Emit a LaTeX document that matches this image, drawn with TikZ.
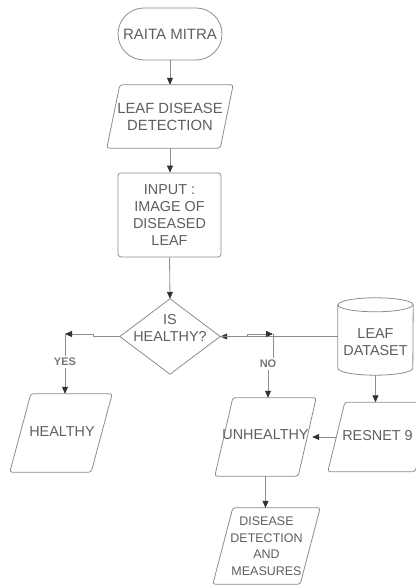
\documentclass[tikz,border=0pt]{standalone}
\usepackage{fontspec}
\setmainfont{Liberation Sans}
\usetikzlibrary{shapes.geometric,arrows.meta,calc}
\definecolor{txtc}{HTML}{5E5E5E}
\definecolor{linec}{HTML}{8C8C8C}
\definecolor{arrc}{HTML}{333333}
\newcommand\parashape[2]{\draw[shapeline, rounded corners=2.5pt] (#1.south west) -- ($(#1.north west)+(#2,0)$) -- (#1.north east) -- ($(#1.south east)+(-#2,0)$) -- cycle;}
\begin{document}
\begin{tikzpicture}[x=1pt,y=1pt,
  txt/.style={text=txtc, font=\fontsize{14.4}{17}\selectfont, align=center, inner sep=0.5pt},
  box/.style={txt, draw=linec, line width=0.8pt},
  geom/.style={txt, draw=none},
  shapeline/.style={draw=linec, line width=0.8pt},
  conn/.style={draw=linec, line width=0.8pt},
  arr/.style={conn, -{Triangle[length=7pt,width=6pt,color=arrc]}},
  lbl/.style={text=txtc!85, font=\fontsize{11}{12}\selectfont\bfseries, inner sep=2pt}
]
\useasboundingbox (0,0) rectangle (415,585);

% nodes
\node[box, rounded corners=26pt, minimum width=104pt, minimum height=52pt, font=\fontsize{15}{17}\selectfont] (term) at (170,551) {RAITA MITRA};

\node[geom, minimum width=126pt, minimum height=63pt, font=\fontsize{14.8}{17}\selectfont] (p1) at (170,468.5) {LEAF DISEASE\\DETECTION};
\parashape{p1}{13}

\node[box, rounded corners=3pt, minimum width=103pt, minimum height=84pt] (inp) at (169.5,370) {INPUT :\\IMAGE OF\\DISEASED\\LEAF};

\node[geom, minimum width=100pt, minimum height=75pt] (d) at (170,248.5) {};
\draw[shapeline] (d.north) -- (d.east) -- (d.south) -- (d.west) -- cycle;
\node[txt] (dt) at (170,257) {IS\\HEALTHY?};

\node[geom, minimum width=75pt, minimum height=77pt] (ds) at (375.5,248.5) {};
\draw[shapeline] ($(ds.north west)+(0,-7)$) -- ($(ds.south west)+(0,7)$)
   arc[start angle=180, end angle=360, x radius=37.5pt, y radius=7pt]
   -- ($(ds.north east)+(0,-7)$)
   arc[start angle=0, end angle=180, x radius=37.5pt, y radius=7pt] -- cycle;
\draw[shapeline] ($(ds.north west)+(0,-7)$) arc[start angle=180, end angle=360, x radius=37.5pt, y radius=7pt];
\node[txt] (dst) at (375.5,243) {LEAF\\DATASET};

\node[geom, minimum width=102pt, minimum height=78pt] (heal) at (61,152) {};
\parashape{heal}{21}
\node[txt] (healt) at (62,153) {HEALTHY};
\node[geom, minimum width=101pt, minimum height=78pt] (uh) at (265.5,148) {};
\parashape{uh}{18}
\node[txt] (uht) at (265.5,150.5) {UNHEALTHY};
\node[geom, minimum width=104pt, minimum height=69pt] (rn) at (380,148) {};
\parashape{rn}{17}
\node[txt] (rnt) at (377.5,149) {RESNET 9};
\node[geom, minimum width=107pt, minimum height=76pt, font=\fontsize{12.5}{16.5}\selectfont] (dis) at (266.5,39) {DISEASE\\DETECTION\\AND\\MEASURES};
\parashape{dis}{20}

\node[lbl] (yes) at (65,223) {YES};
\node[lbl] (no) at (268,221) {NO};

\coordinate (jl1) at (93,248.5);
\coordinate (jl2) at (93,251);
\coordinate (yc) at (65,251);
\coordinate (jr1) at (247,248.5);
\coordinate (jr2) at (247,251);
\coordinate (nc) at (273,251);

% connectors
\draw[arr] (term.south) -- (term.south |- p1.north);
\draw[arr] (p1.south) -- (p1.south |- inp.north);
\draw[arr] (inp.south) -- (d.north);
\draw[arr] (d.west) -- (jl1) -- (jl2) -- (yc);
\draw[conn] (yc) -- (yes.north);
\draw[arr] (yes.south) -- (yes.south |- heal.north);
\draw[arr] (ds.west) -- (d.east);
\draw[arr] (d.east) -- (jr1) -- (jr2) -- (nc);
\draw[conn] (nc) -- (nc |- no.north);
\draw[arr] (no.south) -- (no.south |- uh.north);
\draw[arr] (ds.south) -- (ds.south |- rn.north);
\draw[arr, shorten <=-8.5pt, shorten >=-4pt] (rn.west) -- (uh.east);
\draw[arr] (uh.south) -- (uh.south |- dis.north);
\end{tikzpicture}
\end{document}
